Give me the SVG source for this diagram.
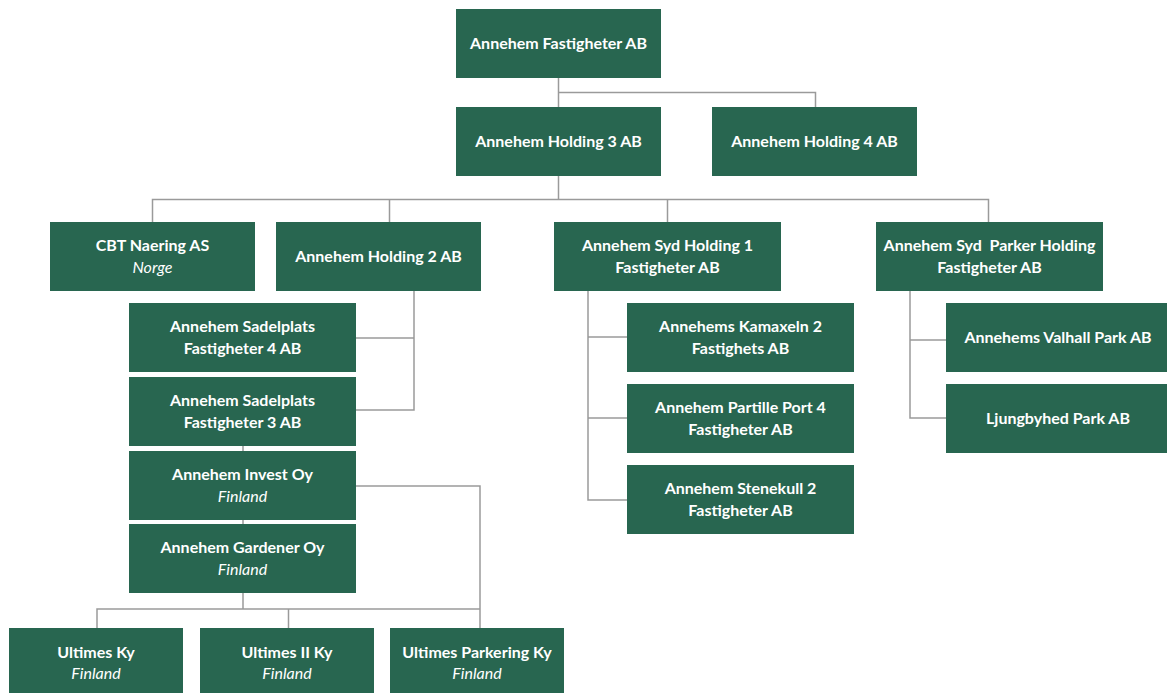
<svg xmlns="http://www.w3.org/2000/svg" width="1167" height="693" viewBox="0 0 1167 693">
<style>
.n rect{fill:#286650}
.n text{fill:#ffffff;font-family:Lato,"Open Sans","Liberation Sans",sans-serif;font-weight:700;font-size:16px;text-anchor:middle}
.n text.i{font-style:italic;font-weight:400}
.c path{fill:none;stroke:#9a9a9a;stroke-width:1.5}
</style>
<rect width="1167" height="693" fill="#ffffff"/>
<g class="c">
<path d="M558.5 78V107M558.5 92.5H815.5V107"/>
<path d="M558.5 176V199.5M152.5 222V199.5H988.5V222M389.5 199.5V222M667.5 199.5V222"/>
<path d="M414 291V410H356M414 338H356"/>
<path d="M243 446V451M243 520V524"/>
<path d="M356 486H480V628"/>
<path d="M243 593V609M97 628V609H480M288.5 609V628"/>
<path d="M588 291V500H627M588 337H627M588 418H627"/>
<path d="M910 291V418H946M910 340H946"/>
</g>
<g id="n-fastigheter" class="n"><rect x="456" y="9" width="205" height="69"/><text x="558.5" y="49">Annehem Fastigheter AB</text></g>
<g id="n-holding3" class="n"><rect x="456" y="107" width="205" height="69"/><text x="558.5" y="147">Annehem Holding 3 AB</text></g>
<g id="n-holding4" class="n"><rect x="712" y="107" width="205" height="69"/><text x="814.5" y="147">Annehem Holding 4 AB</text></g>
<g id="n-cbt" class="n"><rect x="50" y="222" width="205" height="69"/><text x="152.5" y="251">CBT Naering AS</text><text x="152.5" y="273" class="i">Norge</text></g>
<g id="n-holding2" class="n"><rect x="276" y="222" width="205" height="69"/><text x="378.5" y="262">Annehem Holding 2 AB</text></g>
<g id="n-sydholding1" class="n"><rect x="554" y="222" width="227" height="69"/><text x="667.5" y="251">Annehem Syd Holding 1</text><text x="667.5" y="273">Fastigheter AB</text></g>
<g id="n-sydparker" class="n"><rect x="876" y="222" width="227" height="69"/><text x="989.5" y="251" xml:space="preserve">Annehem Syd  Parker Holding</text><text x="989.5" y="273">Fastigheter AB</text></g>
<g id="n-sadel4" class="n"><rect x="129" y="303" width="227" height="69"/><text x="242.5" y="332">Annehem Sadelplats</text><text x="242.5" y="354">Fastigheter 4 AB</text></g>
<g id="n-sadel3" class="n"><rect x="129" y="377" width="227" height="69"/><text x="242.5" y="406">Annehem Sadelplats</text><text x="242.5" y="428">Fastigheter 3 AB</text></g>
<g id="n-invest" class="n"><rect x="129" y="451" width="227" height="69"/><text x="242.5" y="480">Annehem Invest Oy</text><text x="242.5" y="502" class="i">Finland</text></g>
<g id="n-gardener" class="n"><rect x="129" y="524" width="227" height="69"/><text x="242.5" y="553">Annehem Gardener Oy</text><text x="242.5" y="575" class="i">Finland</text></g>
<g id="n-kamaxeln" class="n"><rect x="627" y="303" width="227" height="69"/><text x="740.5" y="332">Annehems Kamaxeln 2</text><text x="740.5" y="354">Fastighets AB</text></g>
<g id="n-partille" class="n"><rect x="627" y="384" width="227" height="69"/><text x="740.5" y="413">Annehem Partille Port 4</text><text x="740.5" y="435">Fastigheter AB</text></g>
<g id="n-stenekull" class="n"><rect x="627" y="465" width="227" height="69"/><text x="740.5" y="494">Annehem Stenekull 2</text><text x="740.5" y="516">Fastigheter AB</text></g>
<g id="n-valhall" class="n"><rect x="946" y="303" width="221" height="69"/><text x="1058" y="343">Annehems Valhall Park AB</text></g>
<g id="n-ljungbyhed" class="n"><rect x="946" y="384" width="221" height="69"/><text x="1058" y="424">Ljungbyhed Park AB</text></g>
<g id="n-ultimes" class="n"><rect x="9" y="628" width="174" height="65"/><text x="96" y="658">Ultimes Ky</text><text x="96" y="679" class="i">Finland</text></g>
<g id="n-ultimes2" class="n"><rect x="200" y="628" width="174" height="65"/><text x="287" y="658">Ultimes II Ky</text><text x="287" y="679" class="i">Finland</text></g>
<g id="n-parkering" class="n"><rect x="390" y="628" width="174" height="65"/><text x="477" y="658">Ultimes Parkering Ky</text><text x="477" y="679" class="i">Finland</text></g>
</svg>
